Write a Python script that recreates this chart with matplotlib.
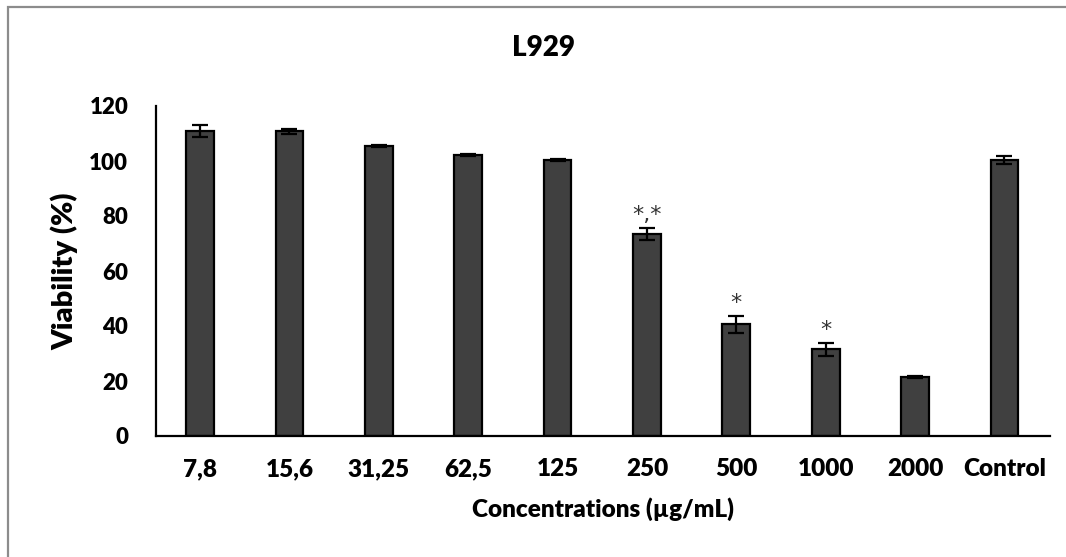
import matplotlib
matplotlib.use("Agg")
import matplotlib.pyplot as plt
from matplotlib.patches import Rectangle

categories = ["7,8", "15,6", "31,25", "62,5", "125", "250", "500", "1000", "2000", "Control"]
viability = [110.9, 110.8, 105.5, 102.2, 100.4, 73.5, 40.6, 31.5, 21.6, 100.4]
errors = [2.1, 0.8, 0.3, 0.3, 0.3, 2.3, 3.0, 2.3, 0.4, 1.5]
marks = ["", "", "", "", "", "*,*", "*", "*", "", ""]

plt.rcParams['font.family'] = ['Lato', 'DejaVu Sans']
WEIGHT = 'heavy'

W, H = 1066, 557
fig = plt.figure(figsize=(W / 100, H / 100), dpi=100)
fig.patches.append(Rectangle((7.5 / W, -0.05), 1.2, 1 - 6.5 / H + 0.05, transform=fig.transFigure,
                             fill=False, edgecolor='#8c8c8c', linewidth=1.6, clip_on=False))
ax = fig.add_axes([156 / W, 1 - 436 / H, (1050 - 156) / W, 330 / H])

x = list(range(len(categories)))
ax.bar(x, viability, width=0.31, color='#404040', edgecolor='black', linewidth=1.6,
       yerr=errors, error_kw=dict(ecolor='black', elinewidth=1.6, capsize=5.5, capthick=1.6), zorder=2)

for xi, v, e, m in zip(x, viability, errors, marks):
    if m:
        ax.text(xi, v + e + 2.5, m, ha='center', va='baseline', fontsize=16,
                color='#333333', family='DejaVu Sans')

ax.set_xlim(-0.492, 9.51)
ax.set_ylim(0, 120)
ax.set_yticks([0, 20, 40, 60, 80, 100, 120])
ax.set_xticks(x)
ax.set_xticklabels(categories)
for lbl in ax.get_yticklabels():
    lbl.set_fontweight(WEIGHT)
    lbl.set_fontsize(16)
for lbl in ax.get_xticklabels():
    lbl.set_fontweight(WEIGHT)
    lbl.set_fontsize(17.5)
ax.tick_params(axis='both', length=0)
ax.tick_params(axis='x', pad=16)
ax.tick_params(axis='y', pad=20)
for s in ['top', 'right']:
    ax.spines[s].set_visible(False)
ax.spines['left'].set_linewidth(1.6)
ax.spines['bottom'].set_linewidth(1.6)
ax.set_ylabel("Viability (%)", fontsize=21, fontweight=WEIGHT, labelpad=8)
ax.set_xlabel("Concentrations (µg/mL)", fontsize=17.5, fontweight=WEIGHT, labelpad=12)
fig.text(544 / W, 1 - 48 / H, "L929", ha='center', va='center', fontsize=20, fontweight=WEIGHT)

fig.savefig("out.png", dpi=100)
